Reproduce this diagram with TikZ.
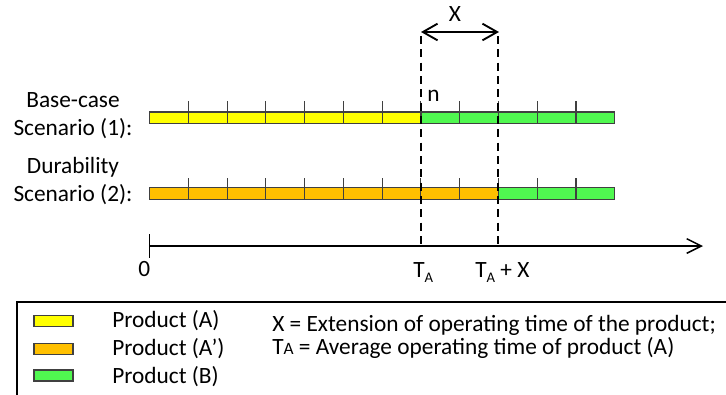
\documentclass[tikz,border=0pt]{standalone}
\usepackage{fontspec}
\setmainfont{Carlito}
\usetikzlibrary{arrows.meta, positioning, calc}
\definecolor{cYellow}{RGB}{255,255,0}
\definecolor{cOrange}{RGB}{255,192,0}
\definecolor{cGreen}{RGB}{80,248,80}
\definecolor{cEdge}{RGB}{64,64,64}
\newcommand\subA{\raisebox{-4pt}{\fontsize{11}{11}\selectfont A}}
\newcommand\smallA{{\fontsize{13}{13}\selectfont A}}
\tikzset{
	seg/.style      ={draw=cEdge, line width=1.1pt},
	segtick/.style  ={cEdge, line width=0.8pt},
	guide/.style    ={line width=1.4pt, dash pattern=on 6pt off 4pt},
	dimarrow/.style ={{Straight Barb[length=11pt, width=12.5pt]}-{Straight Barb[length=11pt, width=12.5pt]}, line width=1.4pt},
	axisarrow/.style={-{Straight Barb[length=11pt, width=11pt]}, line width=1.1pt},
	lbl/.style      ={font=\fontsize{17.5}{21}\selectfont, inner sep=0pt, anchor=base},
	swatch/.style   ={draw=cEdge, line width=1pt, minimum width=29.25pt, minimum height=8.25pt, inner sep=0pt},
}

\begin{document}
\begin{tikzpicture}[x=0.75pt, y=-0.75pt]
	\clip (0,0) rectangle (726,394);
	% scenario bars
	\fill[cYellow] (149.5,112) rectangle (421,123.3);
	\fill[cGreen]  (421,112) rectangle (614.7,123.3);
	\draw[seg] (149.5,112) rectangle (614.7,123.3);
	\fill[cOrange] (149.5,187.5) rectangle (498.3,199.3);
	\fill[cGreen]  (498.3,187.5) rectangle (614.7,199.3);
	\draw[seg] (149.5,187.5) rectangle (614.7,199.3);
	\foreach \i in {1,...,11} {
		\draw[segtick] ({149.5+\i*38.77},101) -- ++(0,22.3);
		\draw[segtick] ({149.5+\i*38.77},178) -- ++(0,21.3);
	}
	\draw[seg] (421,112) -- (421,123.3);
	\draw[seg] (498.3,187.5) -- (498.3,199.3);

	\node[lbl] (base1) at (73,107)   {Base-case};
	\node[lbl] (base2) at (73,135.7) {Scenario (1):};
	\node[lbl] (dur1)  at (73,173)   {Durability};
	\node[lbl] (dur2)  at (73,201)   {Scenario (2):};

	% time axis
	\coordinate (org) at (149.5,246);
	\coordinate (end) at (703,246);
	\coordinate (zt) at (149.5,234);
	\coordinate (zb) at (149.5,258);
	\draw[axisarrow] (org) -- (end);
	\draw[line width=1.1pt] (zt) -- (zb);

	\coordinate (taTop)  at (421,36);
	\coordinate (taAx)   at (421,246);
	\coordinate (taxTop) at (498.3,36);
	\coordinate (taxAx)  at (498.3,246);
	\draw[guide] (taTop) -- (taAx);
	\draw[guide] (taxTop) -- (taxAx);
	\coordinate (xl) at (421,32);
	\coordinate (xr) at (499,32);
	\draw[dimarrow] (xl) -- (xr);

	\node[lbl] (xlbl) at (455,21.7) {X};
	\node[lbl, anchor=base west] (n) at (427,101.5) {n};
	\node[lbl] (zero) at (144.3,276) {0};
	\node[lbl, anchor=base west] (ta)  at (413,277) {T\subA};
	\node[lbl, anchor=base west] (tax) at (475,277) {T\subA{} + X};

	% legend
	\draw[line width=1.5pt] (17.3,301.7) rectangle (760,430);
	\node[swatch, fill=cYellow] (swA)  at (53.5,321.2) {};
	\node[swatch, fill=cOrange] (swA2) at (53.5,348.8) {};
	\node[swatch, fill=cGreen]  (swB)  at (53.5,375.5) {};
	\node[lbl, anchor=base west] (prodA)  at (112,327) {Product (A)};
	\node[lbl, anchor=base west] (prodA2) at (112,355) {Product (A’)};
	\node[lbl, anchor=base west] (prodB)  at (112,383) {Product (B)};
	\node[lbl, anchor=base west] (defX)  at (272,331) {X = Extension of operating time of the product;};
	\node[lbl, anchor=base west] (defTA) at (272,354) {T\smallA{} = Average operating time of product (A)};
\end{tikzpicture}
\end{document}
